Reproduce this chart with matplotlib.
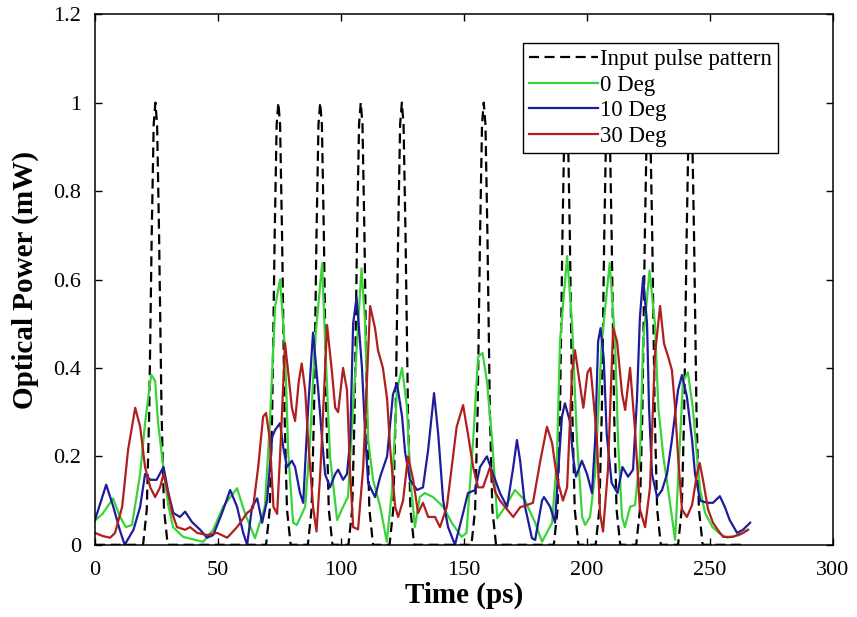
import numpy as np
import matplotlib
matplotlib.use("Agg")
import matplotlib.pyplot as plt

plt.rcParams['font.family'] = ['Liberation Serif', 'DejaVu Serif']

# input pulse pattern: pulse centres (ps) and one pulse profile
pulse_centres = [24.5, 74.5, 91.5, 108.0, 124.7, 158.0, 191.5, 208.5, 225.0, 242.0]
pulse_offsets = [-5, -3.5, -2.5, -1.5, -0.7, 0, 0.7, 1.5, 2.5, 3.5, 5]
pulse_shape = [0, 0.08, 0.3, 0.7, 0.95, 1.0, 0.95, 0.7, 0.3, 0.08, 0]
pulse_end = 265.0

# 0 Deg
t_green = [0, 3, 7.3, 10, 12.5, 15, 18.3, 20.3, 22.8, 24.4, 25.6, 27.2, 29.7, 31.7, 35.8,
           41.5, 44, 48, 52, 57.7, 61, 65, 69, 71, 73.2, 75.2, 77.2, 78.5, 80.5, 82,
           85.4, 87.4, 89.4, 92.3, 93.5, 95.5, 98.4, 100.8, 102.8, 104.9, 108.3, 109.8,
           111, 113, 115.9, 118.6, 120.7, 122.7, 124.8, 126.8, 128, 130, 132, 134, 137.4,
           141.5, 145, 149, 151, 153.7, 155.7, 157.5, 159.3, 161.4, 163.5, 166.7, 170.7,
           174.8, 178.9, 181.7, 185.8, 187.8, 189, 191.9, 193.9, 195.9, 198, 199.2, 201.2,
           203.3, 206, 209.2, 211.4, 212.6, 214.2, 215.4, 217.5, 219.5, 221.5, 222.8,
           225.4, 227.6, 229, 231, 233, 235.8, 237.8, 239, 241, 243, 244.7, 246, 248,
           251, 254, 257, 262, 265.5]
p_green = [0.055, 0.07, 0.105, 0.065, 0.04, 0.045, 0.16, 0.275, 0.385, 0.37, 0.275, 0.2,
           0.09, 0.04, 0.018, 0.01, 0.007, 0.034, 0.086, 0.128, 0.07, 0.015, 0.086, 0.27,
           0.54, 0.60, 0.44, 0.21, 0.05, 0.045, 0.086, 0.237, 0.46, 0.637, 0.46, 0.2,
           0.056, 0.086, 0.108, 0.31, 0.625, 0.50, 0.237, 0.147, 0.086, 0.007, 0.124,
           0.35, 0.40, 0.31, 0.16, 0.04, 0.108, 0.117, 0.108, 0.086, 0.05, 0.018, 0.027,
           0.237, 0.425, 0.434, 0.37, 0.237, 0.06, 0.086, 0.124, 0.10, 0.05, 0.007, 0.05,
           0.2, 0.46, 0.653, 0.50, 0.237, 0.063, 0.045, 0.063, 0.16, 0.46, 0.637, 0.46,
           0.237, 0.063, 0.04, 0.086, 0.09, 0.2, 0.46, 0.62, 0.50, 0.31, 0.2, 0.124,
           0.011, 0.237, 0.37, 0.39, 0.31, 0.2, 0.124, 0.072, 0.04, 0.025, 0.016, 0.022,
           0.034]

# 10 Deg
t_blue = [0, 4.5, 7.4, 10, 12, 15.6, 18.3, 20.3, 22.4, 25, 27.8, 29.8, 31.8, 34.5, 36.6,
          39.3, 42.7, 45.5, 48, 51.6, 54.9, 57.7, 60.2, 61.8, 63.8, 65.9, 67.9, 69.9, 72,
          73.2, 75.2, 76.5, 78, 80, 81.3, 83.3, 84.6, 86.6, 88.6, 90.7, 92.3, 93.5, 95.5,
          97.6, 98.8, 100.8, 102.4, 103.7, 104.9, 106.3, 108.5, 109.8, 111, 113.8, 115.9,
          118.7, 121.1, 122.7, 124.8, 126, 128, 130.9, 133.3, 135.4, 137.8, 139.5, 141.5,
          143.5, 146.3, 149.2, 151.6, 154.5, 156.5, 159.3, 161.8, 164.6, 167.5, 170, 171.5,
          172.8, 174.8, 177.6, 178.9, 181.7, 182.5, 185, 187, 188.2, 189.8, 191, 193,
          194.3, 195.5, 197.9, 200, 202, 203.3, 204.5, 205.5, 206.8, 208, 210, 212.4,
          214.4, 216.7, 218.7, 220.3, 221.5, 222.8, 224.4, 225.2, 226.4, 228.5, 230.5,
          232.5, 234.5, 237, 238.6, 240.6, 242.7, 243.9, 246, 248.8, 251.2, 254, 256, 258,
          261, 263.4, 266.3]
p_blue = [0.057, 0.136, 0.086, 0.034, 0.0, 0.034, 0.086, 0.16, 0.147, 0.147, 0.176, 0.117,
          0.072, 0.063, 0.075, 0.052, 0.034, 0.016, 0.022, 0.072, 0.124, 0.086, 0.027, 0.0,
          0.086, 0.105, 0.05, 0.1, 0.244, 0.26, 0.275, 0.22, 0.176, 0.19, 0.176, 0.117,
          0.095, 0.31, 0.48, 0.35, 0.237, 0.16, 0.13, 0.16, 0.17, 0.147, 0.16, 0.237, 0.50,
          0.56, 0.40, 0.25, 0.14, 0.108, 0.154, 0.2, 0.34, 0.366, 0.29, 0.21, 0.147, 0.124,
          0.13, 0.215, 0.343, 0.25, 0.1, 0.04, 0.0, 0.063, 0.117, 0.124, 0.176, 0.2, 0.16,
          0.117, 0.086, 0.176, 0.237, 0.19, 0.086, 0.015, 0.011, 0.1, 0.108, 0.086, 0.05,
          0.16, 0.29, 0.32, 0.28, 0.2, 0.154, 0.19, 0.16, 0.117, 0.237, 0.46, 0.49, 0.42,
          0.25, 0.14, 0.117, 0.176, 0.154, 0.17, 0.33, 0.515, 0.605, 0.50, 0.31, 0.16,
          0.108, 0.124, 0.16, 0.237, 0.35, 0.384, 0.335, 0.237, 0.16, 0.1, 0.095, 0.095,
          0.11, 0.086, 0.056, 0.027, 0.034, 0.05]

# 30 Deg
t_red = [0, 3, 6.1, 8.1, 11, 13.4, 16.3, 18.3, 20.3, 22.4, 24.4, 26.4, 27.8, 29.7, 31.3,
         33.3, 36.6, 38.6, 41.5, 45.5, 49.6, 53.7, 57.7, 61.8, 64.2, 66.3, 68.3, 69.5, 71,
         72.5, 74, 75.5, 77.2, 78.5, 80, 81.3, 82.8, 84, 85.4, 86.6, 88.6, 90, 91.5, 92.3,
         94.3, 96.3, 97.6, 98.8, 100.8, 102.4, 103.7, 104.9, 106.9, 109, 111.8, 113.8, 115,
         117, 118.7, 120, 122, 123.2, 125.2, 127.2, 129.3, 131.3, 133.3, 135.4, 138.2,
         140.2, 143, 145, 147, 149.6, 151.6, 153.7, 155.7, 157.7, 160.6, 162.6, 164.6,
         167.5, 170, 172.8, 175.6, 178, 181, 183.7, 185.8, 187.8, 190.2, 191.9, 193.9,
         195.1, 197, 198.5, 200.2, 201.4, 202.6, 204, 205.3, 206.5, 208.5, 210.6, 212.2,
         214.2, 215.5, 217.5, 219.5, 221.5, 223.6, 225.6, 227.6, 229.7, 231.3, 233, 234.5,
         235.8, 237, 238.6, 240.6, 242.7, 244.7, 245.8, 247.2, 249.2, 251.2, 253, 255.3,
         259.3, 263.4, 265.4]
p_red = [0.027, 0.02, 0.016, 0.027, 0.086, 0.215, 0.31, 0.267, 0.176, 0.13, 0.108, 0.13,
         0.16, 0.117, 0.072, 0.04, 0.034, 0.04, 0.027, 0.022, 0.027, 0.016, 0.04, 0.072,
         0.083, 0.176, 0.29, 0.298, 0.24, 0.086, 0.07, 0.237, 0.456, 0.39, 0.31, 0.28,
         0.37, 0.41, 0.35, 0.237, 0.086, 0.03, 0.16, 0.25, 0.497, 0.39, 0.31, 0.3, 0.40,
         0.35, 0.16, 0.04, 0.035, 0.176, 0.54, 0.49, 0.44, 0.40, 0.33, 0.215, 0.086,
         0.063, 0.1, 0.2, 0.147, 0.072, 0.095, 0.063, 0.063, 0.04, 0.086, 0.176, 0.267,
         0.316, 0.25, 0.176, 0.13, 0.13, 0.176, 0.12, 0.1, 0.08, 0.063, 0.085, 0.09,
         0.095, 0.19, 0.267, 0.23, 0.15, 0.1, 0.13, 0.39, 0.44, 0.366, 0.31, 0.39, 0.40,
         0.33, 0.24, 0.07, 0.03, 0.17, 0.49, 0.46, 0.343, 0.305, 0.40, 0.26, 0.08, 0.04,
         0.13, 0.43, 0.54, 0.455, 0.425, 0.395, 0.31, 0.2, 0.08, 0.063, 0.09, 0.16, 0.185,
         0.145, 0.08, 0.05, 0.035, 0.018, 0.018, 0.027, 0.034]

labels = ['Input pulse pattern', '0 Deg', '10 Deg', '30 Deg']
x_ticks = [0, 50, 100, 150, 200, 250, 300]
y_ticks = [0, 0.2, 0.4, 0.6, 0.8, 1.0, 1.2]
y_ticklabels = ['0', '0.2', '0.4', '0.6', '0.8', '1', '1.2']

# assemble the input pulse trace from the centres and the profile
t_in, p_in = [0.0], [0.0]
for c in pulse_centres:
    t_in += [c + o for o in pulse_offsets]
    p_in += pulse_shape
t_in.append(pulse_end)
p_in.append(0.0)

fig = plt.figure(figsize=(8.57, 6.17), dpi=100)
ax = fig.add_axes([0.111, 0.117, 0.861, 0.860])

ax.plot(t_in, p_in, color='black', lw=1.6, linestyle=(0, (4.5, 2.5)), label=labels[0])
ax.plot(t_green, p_green, color='#3ad43a', lw=1.6, label=labels[1])
ax.plot(t_blue, p_blue, color='#1c1c9c', lw=1.6, label=labels[2])
ax.plot(t_red, p_red, color='#b01e1e', lw=1.6, label=labels[3])

ax.set_xlim(0, 300)
ax.set_ylim(0, 1.2)
ax.set_xticks(x_ticks)
ax.set_yticks(y_ticks)
ax.set_yticklabels(y_ticklabels)
ax.tick_params(direction='in', top=True, right=True, length=5, width=1, labelsize=16)
ax.tick_params(axis='x', pad=12)
ax.tick_params(axis='y', pad=10)
for s in ax.spines.values():
    s.set_linewidth(1.1)

ax.set_xlabel('Time (ps)', fontsize=21, fontweight='bold', labelpad=1)
ax.set_ylabel('Optical Power (mW)', fontsize=21, fontweight='bold', labelpad=10)

leg = ax.legend(loc='upper right', bbox_to_anchor=(0.925, 0.945), fontsize=16.5,
                handlelength=3.0, handletextpad=0.1, labelspacing=0.2, borderpad=0.25,
                borderaxespad=0, fancybox=False, framealpha=1, edgecolor='black')
leg.get_frame().set_linewidth(1.0)

fig.savefig('out.png', dpi=100)
